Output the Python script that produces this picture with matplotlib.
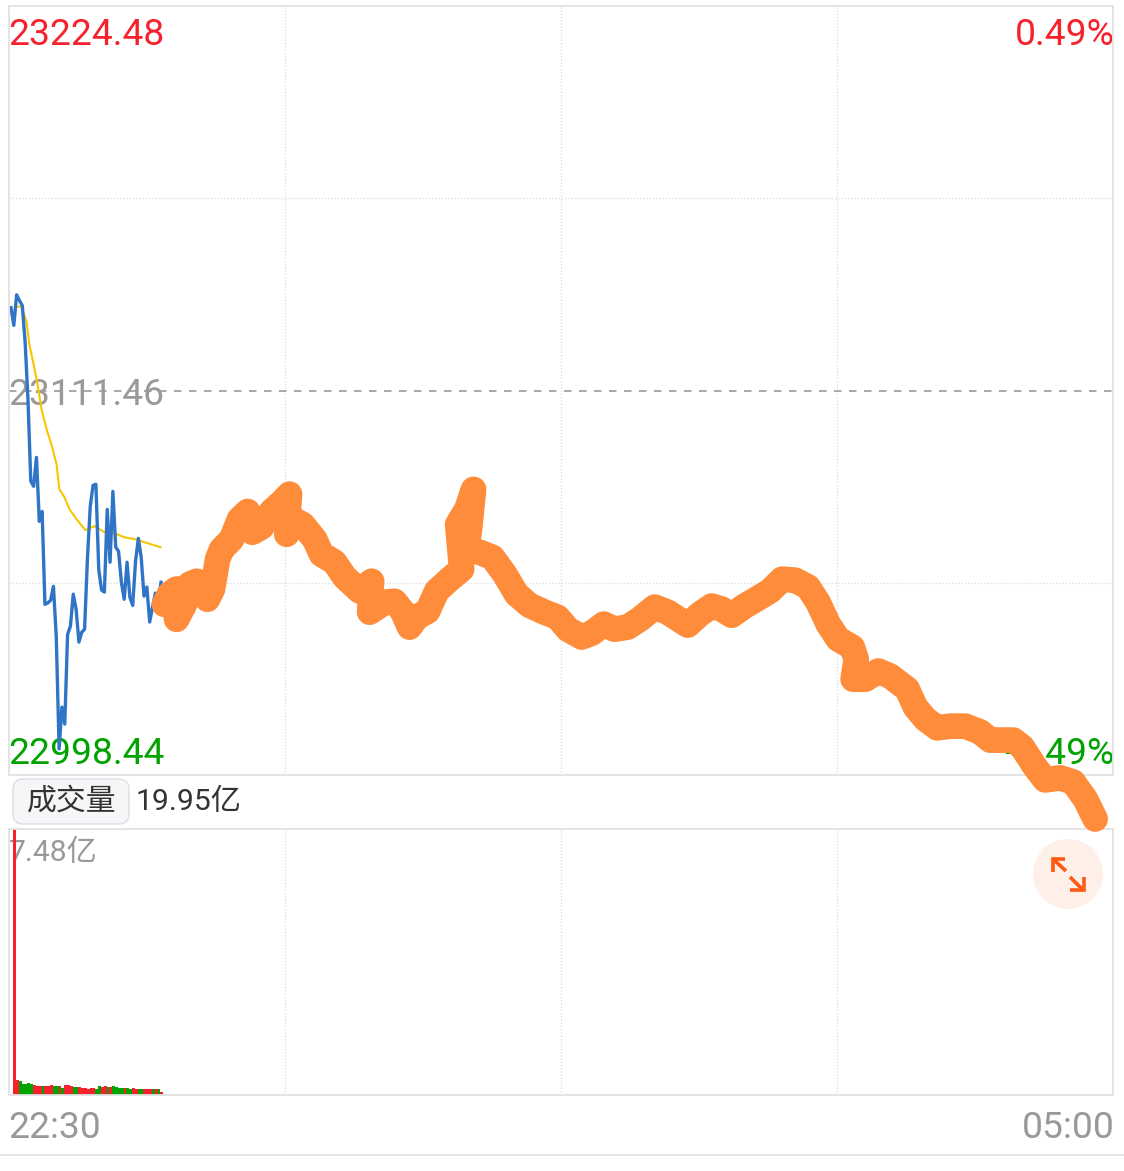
import numpy as np
import matplotlib
matplotlib.use("Agg")
import matplotlib.pyplot as plt
from matplotlib.patches import Circle, FancyBboxPatch

plt.rcParams['font.family'] = ['Roboto', 'Noto Sans CJK SC', 'DejaVu Sans']

# --- data ---
pre_close = 23111.46
price_high = 23224.48
price_low = 22998.44
pct_high = "0.49%"
pct_low = "-0.49%"
vol_total = "19.95亿"
vol_max = 7.48
time_labels = ["22:30", "05:00"]

blue_price = [23135.8, 23130.6, 23139.6, 23137.9, 23136.4, 23125.6, 23108.8, 23084.8, 23083.3,
              23091.8, 23073.0, 23075.9, 23048.6, 23049.0, 23049.8, 23053.9, 23039.0, 23006.1,
              23018.4, 23013.4, 23039.8, 23042.2, 23051.6, 23047.2, 23037.5, 23040.4, 23041.3,
              23061.9, 23077.4, 23083.6, 23083.9, 23058.9, 23052.8, 23052.2, 23076.5, 23061.0,
              23081.8, 23065.4, 23064.2, 23055.1, 23050.1, 23061.0, 23050.7, 23048.3, 23061.3,
              23068.0, 23062.4, 23051.0, 23053.7, 23043.4, 23047.8, 23051.9, 23048.1, 23055.1]

avg_min = [2.7, 4.4, 6.2, 7.2, 8.7, 10.1, 11.5, 13.3, 15.0, 16.8, 17.8, 19.6, 21.4, 23.9,
           27.0, 30.2, 33.7, 37.3, 40.8, 44.3, 48.9, 53.5]
avg_price = [23136.1, 23136.1, 23131.7, 23125.0, 23119.1, 23113.2, 23105.9, 23100.0, 23095.6,
             23089.7, 23082.4, 23080.1, 23076.5, 23073.6, 23070.4, 23071.6, 23069.8, 23069.5,
             23068.3, 23067.8, 23066.6, 23065.4]

# the thick orange scribble that sits on top of the chart
scrawl_min = [54.9, 56.7, 59.2, 58.8, 59.2, 62.0, 63.8, 66.3, 68.4, 70.1, 71.9, 73.7, 75.1, 78.6,
              81.4, 84.3, 86.0, 89.2, 92.7, 96.3, 99.1, 98.1, 100.2, 103.7, 108.0, 110.4, 115.0,
              118.6, 123.9, 128.1, 127.4, 132.7, 136.2, 139.0, 141.5, 144.0, 147.9, 151.1, 155.7,
              159.9, 158.5, 161.7, 164.1, 162.7, 161.7, 166.3, 170.8, 175.1, 179.3, 183.9, 189.2,
              193.8, 197.4, 202.3, 205.8, 210.1, 213.9, 218.5, 222.8, 228.1, 232.7, 239.8, 244.0,
              248.2, 251.8, 255.3, 259.9, 265.2, 268.8, 273.1, 277.7, 282.3, 285.8, 289.4, 292.9,
              297.9, 299.3, 298.2, 302.5, 307.1, 311.3, 317.3, 320.2, 323.7, 327.9, 332.5, 337.8,
              343.1, 346.6, 354.8, 357.9, 362.5, 366.0, 371.3, 375.9, 380.2, 383.7]
scrawl_price = [23048.6, 23051.6, 23053.1, 23048.6, 23044.2, 23048.6, 23054.5, 23055.4, 23053.1,
                23050.1, 23053.1, 23061.9, 23064.8, 23067.7, 23073.6, 23075.9, 23069.8, 23071.3,
                23075.9, 23078.6, 23081.0, 23069.2, 23073.6, 23072.1, 23067.7, 23063.3, 23061.0,
                23056.6, 23052.5, 23055.4, 23046.3, 23049.2, 23049.5, 23046.6, 23041.9, 23044.8,
                23046.6, 23052.5, 23056.0, 23058.9, 23072.1, 23076.5, 23082.4, 23070.7, 23064.8,
                23063.9, 23062.4, 23057.5, 23051.6, 23048.3, 23046.3, 23044.8, 23041.3, 23039.0,
                23040.1, 23042.8, 23041.3, 23041.9, 23044.2, 23047.8, 23046.3, 23042.5, 23045.7,
                23048.1, 23047.2, 23045.4, 23048.1, 23050.7, 23052.5, 23056.0, 23055.7, 23053.7,
                23049.2, 23042.8, 23038.4, 23036.0, 23032.5, 23026.6, 23026.6, 23029.0, 23027.5,
                23023.7, 23018.4, 23014.9, 23012.3, 23012.8, 23012.8, 23011.1, 23008.7, 23008.7,
                23006.7, 23000.8, 22997.0, 22997.6, 22996.4, 22991.4, 22985.5]

vol = [7.48, .431, .394, .319, .300, .337, .300, .281, .262, .262, .253, .244, .244, .272, .244,
       .253, .262, .206, .290, .272, .262, .225, .234, .234, .197, .197, .178, .206, .187, .169,
       .262, .225, .244, .225, .216, .244, .234, .187, .187, .197, .187, .178, .197, .159, .159,
       .178, .159, .159, .178, .178, .159, .169, .075]
vol_up = [1, 1, 0, 0, 0, 0, 0, 1, 1, 1, 0, 1, 1, 1, 0, 0, 1, 0, 1, 1, 1, 0, 0, 1, 1, 1, 1, 1, 1,
          0, 0, 1, 1, 0, 1, 0, 0, 0, 0, 1, 0, 0, 1, 1, 0, 0, 1, 1, 1, 0, 1, 0, 1]

# --- colours ---
RED = "#f5222d"
GREEN = "#00a300"
GREY = "#999999"
BORDER = "#e2e2e2"
GRID = "#dcdcdc"

W, H = 1124, 1171
fig = plt.figure(figsize=(W / 100, H / 100), dpi=100, facecolor="white")


def box(x0, y0, x1, y1):
    return [x0 / W, 1 - y1 / H, (x1 - x0) / W, (y1 - y0) / H]


# layer for labels and the button, in pixels
ui = fig.add_axes([0, 0, 1, 1], zorder=0)
ui.set_xlim(0, W)
ui.set_ylim(H, 0)
ui.axis("off")

ax = fig.add_axes(box(9, 6, 1113, 775), zorder=3)
axv = fig.add_axes(box(9, 829, 1113, 1095), zorder=2)

for a in (ax, axv):
    a.patch.set_alpha(0)
    a.set_xlim(0, 390)
    a.set_xticks([97.5, 195, 292.5])
    a.set_xticklabels([])
    a.tick_params(length=0, labelleft=False, labelbottom=False)
    a.grid(True, axis="both", color=GRID, lw=0.9, ls=(0, (1, 1.6)))
    a.set_axisbelow(True)
    for s in a.spines.values():
        s.set_color(BORDER)
        s.set_linewidth(1.3)

# price panel
ax.set_ylim(price_low, price_high)
ax.set_yticks([pre_close - 56.5, pre_close + 56.5])
ax.axhline(pre_close, color="#999999", lw=1.2, ls=(0, (4.5, 4.5)))
blue_min = np.arange(len(blue_price)) + 0.7
ax.plot(avg_min, avg_price, color="#f7c600", lw=1.5)
ax.plot(blue_min, blue_price, color="#2f74c6", lw=2.4)
ax.plot(scrawl_min, scrawl_price, color="#ff8c3a", lw=18.5, clip_on=False,
        solid_capstyle="round", solid_joinstyle="round", zorder=10)

# volume panel
axv.set_ylim(0, vol_max)
axv.set_yticks([])
bar_min = np.arange(len(vol)) + 2.0
bar_col = [RED if u else GREEN for u in vol_up]
axv.bar(bar_min, vol, width=1.0, color=bar_col, linewidth=0)

# labels
fs = 26.8
ui.text(8, 35, f"{price_high:.2f}", color=RED, fontsize=fs, va="center", ha="left")
ui.text(1114.5, 35, pct_high, color=RED, fontsize=fs, va="center", ha="right")
ui.text(8, 395, f"{pre_close:.2f}", color=GREY, fontsize=fs, va="center", ha="left")
ui.text(8, 754.5, f"{price_low:.2f}", color=GREEN, fontsize=fs, va="center", ha="left")
ui.text(1114.5, 754.5, pct_low, color=GREEN, fontsize=fs, va="center", ha="right")
ui.text(8, 1128, time_labels[0], color=GREY, fontsize=fs, va="center", ha="left")
ui.text(1114.5, 1128, time_labels[1], color=GREY, fontsize=fs, va="center", ha="right")
ui.text(9, 853, f"{vol_max:.2f}亿", color=GREY, fontsize=21.7, va="center", ha="left")

# volume button
ui.add_patch(FancyBboxPatch((13, 779), 116, 45, boxstyle="round,pad=0,rounding_size=10",
                            fc="#f5f6f8", ec="#dcdfe4", lw=1))
ui.text(71.5, 802, "成交量", color="#333333", fontsize=21.5, va="center", ha="center")
ui.text(136, 802, vol_total, color="#333333", fontsize=21.7, va="center", ha="left")

# bottom rule
ui.plot([0, W], [1155, 1155], color=BORDER, lw=1.2)

# expand icon on top of everything
top = fig.add_axes([0, 0, 1, 1], zorder=5)
top.set_xlim(0, W)
top.set_ylim(H, 0)
top.axis("off")
top.add_patch(Circle((1068, 874), 35, fc="#fef0e8", ec="none"))
ic = "#ff5a14"
for xs, ys in [([1052.5, 1052.5, 1065], [872, 859, 859]), ([1053, 1066], [859, 871]),
               ([1070, 1083], [877, 890]), ([1070, 1084, 1084], [890, 890, 877])]:
    top.plot(xs, ys, color=ic, lw=2.6, solid_capstyle="butt", solid_joinstyle="miter")
fig.savefig("out.png", dpi=100, facecolor="white")
